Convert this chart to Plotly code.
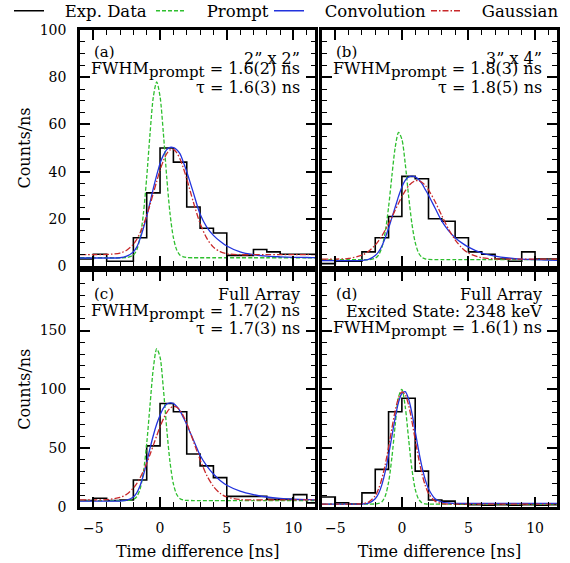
import plotly.graph_objects as go

# ---------------- data ----------------
BIN_EDGES = [-6, -5, -4, -3, -2, -1, 0, 1, 2, 3, 4, 5, 6, 7, 8, 9, 10, 11, 12]

COUNTS_A = [3, 5, 2, 2, 12, 31, 50, 44, 25, 16, 14, 4.5, 4.5, 7, 6, 5, 5, 5]
COUNTS_B = [1, 2, 2, 6, 12, 21, 38, 37, 20, 19, 12, 6, 5, 3, 2, 6, 3, 3]
COUNTS_C = [5.5, 7.5, 5.5, 6, 23, 52, 88, 81, 45, 35, 25, 9, 9, 9, 6.5, 6.5, 10.5, 3.5]
COUNTS_D = [8.5, 3.5, 2.5, 12, 32, 81, 92.5, 30.5, 6, 5, 2.5, 2, 1.5, 2, 1.5, 2, 1.5, 2]

X_FIT = [-6, -5, -4, -3, -2.5, -2,
         -1.75, -1.5, -1.25, -1, -0.75, -0.5, -0.25, 0, 0.25, 0.5, 0.75, 1, 1.25, 1.5, 1.75, 2,
         2.5, 3, 3.5, 4, 4.5, 5,
         6, 7, 8, 9, 10, 11, 12]

PROMPT_A = [3.5, 3.5, 3.5, 3.5, 3.6, 4.6,
            6.8, 12, 22.1, 37.6, 56.2, 71.8, 78, 71.8, 56.2, 37.6, 22.1, 12, 6.8, 4.6, 3.9, 3.6,
            3.5, 3.5, 3.5, 3.5, 3.5, 3.5,
            3.5, 3.5, 3.5, 3.5, 3.5, 3.5, 3.5]
CONV_A = [3.4, 3.4, 3.4, 3.5, 4.2, 6,
          8, 11.5, 16, 21, 27, 33, 38.5, 43.5, 47, 49.3, 50.3, 50.2, 49.3, 47.5, 44, 40,
          31, 22, 16.5, 13, 10.5, 8.5,
          6, 4.8, 4.2, 3.9, 3.7, 3.6, 3.6]
GAUSS_A = [4.8, 4.8, 4.9, 5.5, 6.7, 9.2,
           11.3, 14, 17.4, 21.4, 26, 30.9, 35.9, 40.6, 44.6, 47.6, 49.2, 49.4, 48, 45.3, 41.5, 36.9,
           27, 18.1, 11.8, 8, 6.1, 5.2,
           4.8, 4.8, 4.8, 4.8, 4.8, 4.8, 4.8]

PROMPT_B = [2.7, 2.7, 2.7, 2.7, 2.7, 3.3,
            4.6, 7.9, 14.4, 24.9, 38.2, 50.3, 56.6, 53.7, 43.5, 30, 18.1, 10, 5.6, 3.7, 3.0, 2.8,
            2.7, 2.7, 2.7, 2.7, 2.7, 2.7,
            2.7, 2.7, 2.7, 2.7, 2.7, 2.7, 2.7]
CONV_B = [2.3, 2.3, 2.3, 2.4, 2.8, 4.5,
          6, 8.5, 12, 16, 20.5, 25, 29.5, 33.5, 36.3, 37.7, 38.1, 37.8, 36.8, 35, 32.5, 30,
          24.5, 19, 15, 12, 9.8, 8,
          5.5, 4.2, 3.4, 2.9, 2.7, 2.5, 2.4]
GAUSS_B = [2.9, 2.95, 3.2, 4.6, 6.2, 8.9,
           10.7, 12.8, 15.2, 17.9, 20.7, 23.7, 26.6, 29.4, 31.8, 33.9, 35.3, 36.1, 36.1, 35.5, 34.2, 32.3,
           27.2, 21.3, 15.7, 11.1, 7.7, 5.5,
           3.5, 3.0, 2.9, 2.9, 2.9, 2.9, 2.9]

PROMPT_C = [5.5, 5.5, 5.5, 5.5, 5.5, 6.4,
            8.7, 15.1, 29.3, 53.9, 86.8, 118.3, 134.5, 127.3, 100.3, 66.4, 37.8, 19.6, 10.6, 7, 5.9, 5.6,
            5.5, 5.5, 5.5, 5.5, 5.5, 5.5,
            5.5, 5.5, 5.5, 5.5, 5.5, 5.5, 5.5]
CONV_C = [5, 5, 5, 5, 5.8, 8.5,
          12, 18, 27, 38, 50, 61, 70.5, 78, 84, 87.5, 88.5, 88, 85.5, 81.5, 76, 70,
          57, 44, 35, 28, 22.5, 18.5,
          13.5, 10.5, 8.5, 7.3, 6.6, 6.2, 6.0]
GAUSS_C = [6, 6, 6.3, 8.1, 10.8, 16.1,
           19.9, 24.7, 30.5, 37.2, 44.7, 52.6, 60.6, 68.2, 74.9, 80.3, 83.9, 85.5, 84.8, 82, 77.3, 71.1,
           55.8, 40.2, 26.9, 17.5, 11.6, 8.5,
           6.35, 6, 6, 6, 6, 6, 6]

PROMPT_D = [2.5, 2.5, 2.5, 2.5, 2.5, 2.6,
            3.0, 4.5, 9.3, 20.9, 42.1, 69.8, 93.5, 100, 85.4, 58.5, 32.5, 15.2, 6.8, 3.6, 2.7, 2.5,
            2.5, 2.5, 2.5, 2.5, 2.5, 2.5,
            2.5, 2.5, 2.5, 2.5, 2.5, 2.5, 2.5]
CONV_D = [2.5, 2.5, 2.5, 2.5, 3.3, 7,
          11.5, 19, 30, 44, 60, 76, 89, 96.5, 98, 92, 80, 64.5, 48.5, 34.5, 23.5, 15.5,
          7, 4.2, 3.4, 3.1, 3, 3,
          3, 3, 3, 3, 3, 3, 3]
GAUSS_D = [2.5, 2.5, 2.5, 2.8, 4.2, 9.6,
           15.4, 24.2, 36.1, 50.8, 66.9, 81.8, 92.8, 97.8, 95.7, 86.8, 73.1, 57.2, 41.8, 28.6, 18.5, 11.6,
           4.9, 2.9, 2.5, 2.5, 2.5, 2.5,
           2.5, 2.5, 2.5, 2.5, 2.5, 2.5, 2.5]

SERIES_NAMES = ["Exp. Data", "Prompt", "Convolution", "Gaussian"]
PANEL_TAGS = ["(a)", "(b)", "(c)", "(d)"]
SUB = "<sub><span style='font-size:15px'>prompt</span></sub>"
TEXT_A = ["2” x 2”", "FWHM" + SUB + " = 1.6(2) ns", "τ = 1.6(3) ns"]
TEXT_B = ["3” x 4”", "FWHM" + SUB + " = 1.8(3) ns", "τ = 1.8(5) ns"]
TEXT_C = ["Full Array", "FWHM" + SUB + " = 1.7(2) ns", "τ = 1.7(3) ns"]
TEXT_D = ["Full Array", "Excited State: 2348 keV", "FWHM" + SUB + " = 1.6(1) ns"]
X_TITLE = "Time difference [ns]"
Y_TITLE = "Counts/ns"
Y_TICKS_TOP = [0, 20, 40, 60, 80, 100]
Y_TICKS_BOTTOM = [0, 50, 100, 150]

# ---------------- style ----------------
FONT = "DejaVu Serif"
GREEN = "#2fbf2f"
BLUE = "#2233dd"
RED = "#c8282a"
LEGEND_IDS = ["legend", "legend2", "legend3", "legend4"]
LEGEND_X = [9, 151, 269, 426]   # px, left edge of each legend entry
NBSP = "\u00a0\u00a0\u00a0"

panels = [
    ("x", "y", COUNTS_A, PROMPT_A, CONV_A, GAUSS_A, TEXT_A),
    ("x2", "y2", COUNTS_B, PROMPT_B, CONV_B, GAUSS_B, TEXT_B),
    ("x3", "y3", COUNTS_C, PROMPT_C, CONV_C, GAUSS_C, TEXT_C),
    ("x4", "y4", COUNTS_D, PROMPT_D, CONV_D, GAUSS_D, TEXT_D),
]

fig = go.Figure()
for i, (xa, ya, counts, prompt, conv, gauss, lines) in enumerate(panels):
    show = i == 0
    fig.add_trace(go.Scatter(
        x=BIN_EDGES, y=counts + [counts[-1]], mode="lines",
        line=dict(color="black", width=1.6, shape="hv"),
        name=NBSP + SERIES_NAMES[0], legend=LEGEND_IDS[0], showlegend=show, xaxis=xa, yaxis=ya))
    fig.add_trace(go.Scatter(
        x=X_FIT, y=prompt, mode="lines",
        line=dict(color=GREEN, width=1.3, dash="4px,2px", shape="spline", smoothing=0.8),
        name=NBSP + SERIES_NAMES[1], legend=LEGEND_IDS[1], showlegend=show, xaxis=xa, yaxis=ya))
    fig.add_trace(go.Scatter(
        x=X_FIT, y=conv, mode="lines",
        line=dict(color=BLUE, width=1.3, shape="spline", smoothing=0.8),
        name=NBSP + SERIES_NAMES[2], legend=LEGEND_IDS[2], showlegend=show, xaxis=xa, yaxis=ya))
    fig.add_trace(go.Scatter(
        x=X_FIT, y=gauss, mode="lines",
        line=dict(color=RED, width=1.3, dash="6px,2px,1.5px,2px", shape="spline", smoothing=0.8),
        name=NBSP + SERIES_NAMES[3], legend=LEGEND_IDS[3], showlegend=show, xaxis=xa, yaxis=ya))

tickfont = dict(family=FONT, size=14, color="black")
titlefont = dict(family=FONT, size=16, color="black")


def xaxis(domain, anchor, labels):
    d = dict(domain=domain, anchor=anchor, range=[-6, 11.65],
             showline=True, linecolor="black", linewidth=2.5, mirror="allticks",
             ticks="inside", ticklen=10, tickwidth=1.6, tickcolor="black",
             tick0=0, dtick=5, showticklabels=labels, tickfont=tickfont,
             ticklabelstandoff=6,
             minor=dict(ticks="inside", ticklen=5, tickwidth=1.2, tickcolor="black", dtick=1, tick0=0),
             showgrid=False, zeroline=False)
    if labels:
        d["title"] = dict(text=X_TITLE, font=titlefont, standoff=12)
    return d


def yaxis(domain, anchor, rng, vals, minor_dt, labels):
    d = dict(domain=domain, anchor=anchor, range=rng,
             showline=True, linecolor="black", linewidth=2.5, mirror="allticks",
             ticks="inside", ticklen=10, tickwidth=1.6, tickcolor="black",
             tickmode="array", tickvals=vals, showticklabels=labels, tickfont=tickfont,
             ticklabelstandoff=8,
             minor=dict(ticks="inside", ticklen=5, tickwidth=1.2, tickcolor="black",
                        tickmode="linear", dtick=minor_dt, tick0=0),
             showgrid=False, zeroline=False)
    if labels:
        d["title"] = dict(text=Y_TITLE, font=titlefont, standoff=6)
    return d


XL = [0, 0.4937]
XR = [0.5073, 1]
YT = [0.5052, 1]
YB = [0, 0.4933]

layout_legends = {}
for lid, lx in zip(LEGEND_IDS, LEGEND_X):
    layout_legends[lid] = dict(orientation="h", xref="container", yref="container",
                               x=lx / 570, y=1 - 11 / 563, xanchor="left", yanchor="middle",
                               font=dict(family=FONT, size=16.5, color="black"),
                               bgcolor="rgba(0,0,0,0)", itemwidth=30)

fig.update_layout(
    width=570, height=563,
    margin=dict(l=80, r=13, t=30, b=56, autoexpand=False),
    paper_bgcolor="white", plot_bgcolor="white",
    font=dict(family=FONT, size=14, color="black"),
    xaxis=xaxis(XL, "y", False), yaxis=yaxis(YT, "x", [0, 100], Y_TICKS_TOP, 5, True),
    xaxis2=xaxis(XR, "y2", False), yaxis2=yaxis(YT, "x2", [0, 100], Y_TICKS_TOP, 5, False),
    xaxis3=xaxis(XL, "y3", True), yaxis3=yaxis(YB, "x3", [0, 200], Y_TICKS_BOTTOM, 10, True),
    xaxis4=xaxis(XR, "y4", True), yaxis4=yaxis(YB, "x4", [0, 200], Y_TICKS_BOTTOM, 10, False),
    showlegend=True,
    **layout_legends,
)

annotations = []
axes_ids = [("x", "y"), ("x2", "y2"), ("x3", "y3"), ("x4", "y4")]
for (xa, ya), tag, (_, _, _, _, _, _, lines) in zip(axes_ids, PANEL_TAGS, panels):
    annotations.append(dict(text=tag, xref=xa + " domain", yref=ya + " domain", x=0, y=1,
                            xanchor="left", yanchor="middle", xshift=12, yshift=-22,
                            showarrow=False, font=dict(family=FONT, size=15, color="black")))
    for k, line in enumerate(lines):
        shift = -23 - 17 * k
        if "”" in line:
            shift -= 5
        annotations.append(dict(text=line, xref=xa + " domain", yref=ya + " domain", x=1, y=1,
                                xanchor="right", yanchor="middle", align="right",
                                xshift=-13, yshift=shift,
                                showarrow=False, font=dict(family=FONT, size=16, color="black")))
fig.update_layout(annotations=annotations)

fig.write_html("out.html")
